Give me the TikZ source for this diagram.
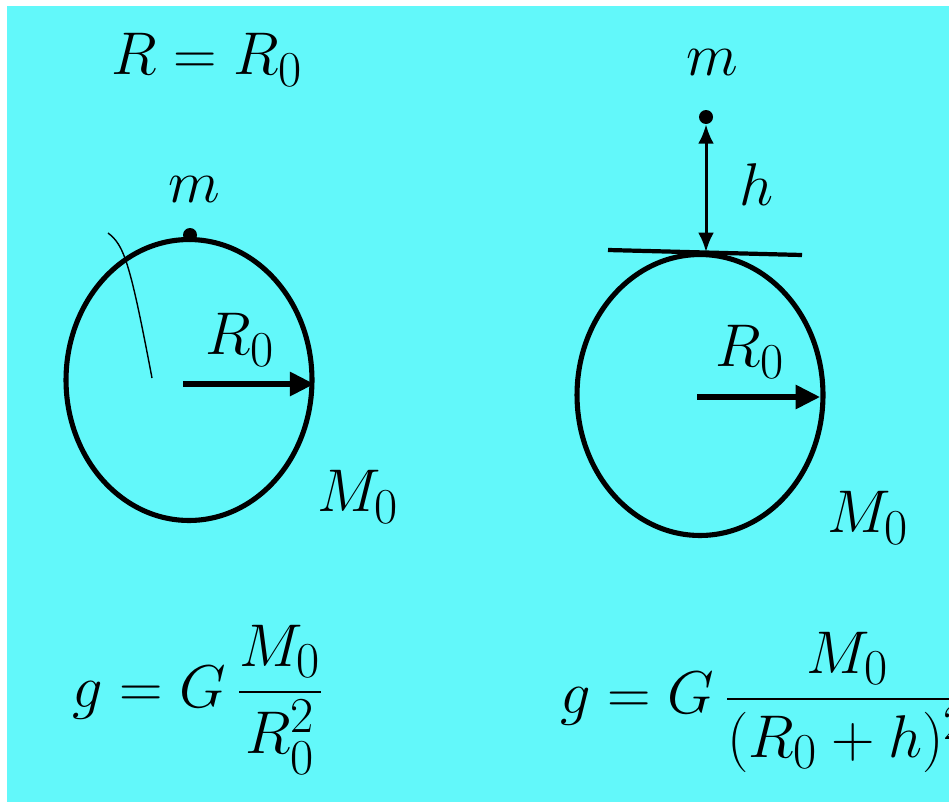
\documentclass[tikz,border=0pt]{standalone}
\usepackage{amsmath}
\usetikzlibrary{arrows.meta,shapes.geometric}
\definecolor{skycyan}{RGB}{98,248,250}

\begin{document}
\begin{tikzpicture}[x=0.02cm, y=-0.02cm,
  lbl/.style={inner sep=0pt, font=\fontsize{24.88}{28}\selectfont, scale=1.38},
  earth/.style={draw, ellipse, line width=2.9pt, inner sep=0pt, minimum width=4.92cm, minimum height=5.62cm},
  dot/.style={circle, fill, inner sep=0pt, minimum size=0.28cm},
  radarr/.style={-{Triangle[length=14pt,width=13pt]}, line width=3.8pt},
  harr/.style={{Latex[length=11pt,width=9pt]}-{Latex[length=11pt,width=9pt]}, line width=1.7pt},
]
  % background with white strip at top and left
  \useasboundingbox (0,0) rectangle (949,801);
  \fill[white] (-5,-5) rectangle (955,807);
  \fill[skycyan] (7,6) rectangle (955,807);

  % Left: mass on the surface
  \node[lbl] (eqR) at (207,60) {$R = R_0$};
  \node[earth] (earthL) at (189,380) {};
  \node[dot] (massL) at (190,235) {};
  \node[lbl] (mL) at (194,190) {$m$};
  \coordinate (cL) at (183,384);
  \draw[radarr] (cL) -- (earthL.east |- cL);
  \node[lbl] (RL) at (240,340) {$R_0$};
  \node[lbl] (ML) at (358,497) {$M_0$};
  \draw[line width=0.8pt] (108,233) .. controls (124,245) and (130,262) .. (152,378);
  \node[lbl] (gL) at (198,700) {$g = G\,\dfrac{M_0}{R_0^2}$};

  % Right: mass at height h
  \node[earth] (earthR) at (700,395) {};
  \coordinate (tanL) at (608,250);
  \coordinate (tanR) at (802,255);
  \draw[line width=2.4pt] (tanL) -- (tanR);
  \node[dot] (massR) at (706,117) {};
  \node[lbl] (mR) at (712,63) {$m$};
  \coordinate (foot) at (706,252);
  \draw[harr] (massR.south) -- (foot);
  \node[lbl] (hR) at (756,185) {$h$};
  \coordinate (cR) at (697,397);
  \draw[radarr] (cR) -- ([xshift=-3pt]earthR.east |- cR);
  \node[lbl] (RR) at (750,352) {$R_0$};
  \node[lbl] (MR) at (868,518) {$M_0$};
  \begin{scope}
    \clip (7,6) rectangle (955,807);
    \node[lbl, anchor=west] (gR) at (560,702) {$g = G\,\dfrac{M_0}{(R_0+h)^2}$};
  \end{scope}
\end{tikzpicture}
\end{document}
